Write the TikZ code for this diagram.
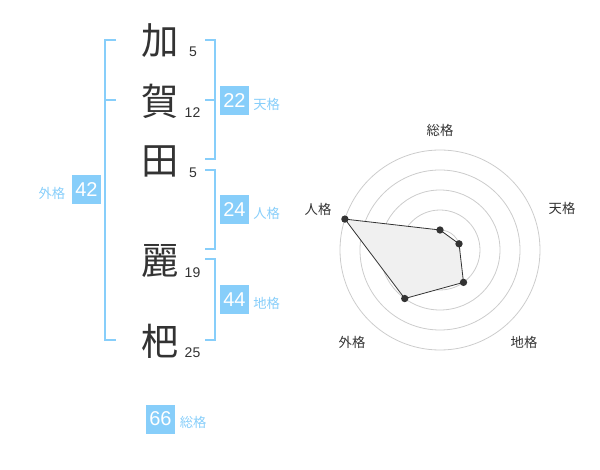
\documentclass[tikz,border=0pt]{standalone}
\usepackage{fontspec}
\setmainfont{Liberation Sans}
\newfontfamily\jp{Noto Sans CJK JP}
\definecolor{sky}{HTML}{87CEFA}
\definecolor{ink}{HTML}{333333}
\definecolor{ring}{HTML}{CCCCCC}
\definecolor{area}{HTML}{F0F0F0}
\begin{document}
\begin{tikzpicture}[x=0.75pt,y=-0.75pt,
  kanji/.style={font=\jp\fontsize{28}{28}\selectfont, text=ink, inner sep=0},
  strokes/.style={font=\fontsize{10.5}{10.5}\selectfont, text=ink, inner sep=0},
  numbox/.style={fill=sky, text=white, minimum size=21.75pt, inner sep=0, font=\fontsize{15}{15}\selectfont},
  kaku/.style={font=\jp\fontsize{10}{10}\selectfont, text=sky, inner sep=0},
  axislabel/.style={font=\jp\fontsize{10}{10}\selectfont, text=ink, inner sep=0},
  bracket/.style={draw=sky, line width=1.5pt},
  ringline/.style={draw=ring, line width=0.6pt},
  dot/.style={circle, fill=ink, inner sep=0, minimum size=5.5pt}]
\useasboundingbox (0,0) rectangle (600,470);

% characters and stroke counts
\node[kanji] (c1) at (160,41) {加};
\node[kanji] (c2) at (160,101) {賀};
\node[kanji] (c3) at (160,161) {田};
\node[kanji] (c4) at (160,261) {麗};
\node[kanji] (c5) at (160,341) {杷};
\node[strokes] (s1) at (193,52) {5};
\node[strokes] (s2) at (192.5,113) {12};
\node[strokes] (s3) at (193,173) {5};
\node[strokes] (s4) at (192.5,273) {19};
\node[strokes] (s5) at (192.5,353) {25};

% brackets
\draw[bracket] (116,40) -- (105,40) -- (105,340) -- (116,340);
\draw[bracket] (105,100) -- (116,100);
\draw[bracket] (205,40) -- (215,40) -- (215,159) -- (205,159);
\draw[bracket] (205,100) -- (215,100);
\draw[bracket] (205,170) -- (215,170) -- (215,249) -- (205,249);
\draw[bracket] (205,259) -- (215,259) -- (215,340) -- (205,340);

% totals
\node[numbox] (ten) at (234.5,100.5) {22};
\node[kaku, anchor=west] (tenl) at (253,104) {天格};
\node[numbox] (jin) at (234.5,210) {24};
\node[kaku, anchor=west] (jinl) at (253,213.5) {人格};
\node[numbox] (chi) at (234.5,300) {44};
\node[kaku, anchor=west] (chil) at (253,303.5) {地格};
\node[numbox] (gai) at (86.5,190) {42};
\node[kaku, anchor=east] (gail) at (65.5,193.5) {外格};
\node[numbox] (sou) at (160.5,419) {66};
\node[kaku, anchor=west] (soul) at (179.5,422.5) {総格};

% radar chart
\begin{scope}[shift={(440,250)}, yscale=-1]
  \foreach \r in {20,40,60,80,100} \draw[ringline] (0,0) circle[radius=\r*0.75pt];
  \fill[ring] (0,0) circle[radius=3pt];
  \coordinate (p1) at (90:20);
  \coordinate (p2) at (18:20);
  \coordinate (p3) at (-54:40);
  \coordinate (p4) at (-126:60);
  \coordinate (p5) at (162:100);
  \filldraw[fill=area, draw=ink, line width=0.6pt] (p1) -- (p2) -- (p3) -- (p4) -- (p5) -- cycle;
  \foreach \p in {p1,p2,p3,p4,p5} \node[dot] at (\p) {};
\end{scope}
\node[axislabel] (a1) at (440,130) {総格};
\node[axislabel] (a2) at (562,208.5) {天格};
\node[axislabel] (a3) at (318,209) {人格};
\node[axislabel] (a4) at (524,342) {地格};
\node[axislabel] (a5) at (352,342) {外格};
\end{tikzpicture}
\end{document}
